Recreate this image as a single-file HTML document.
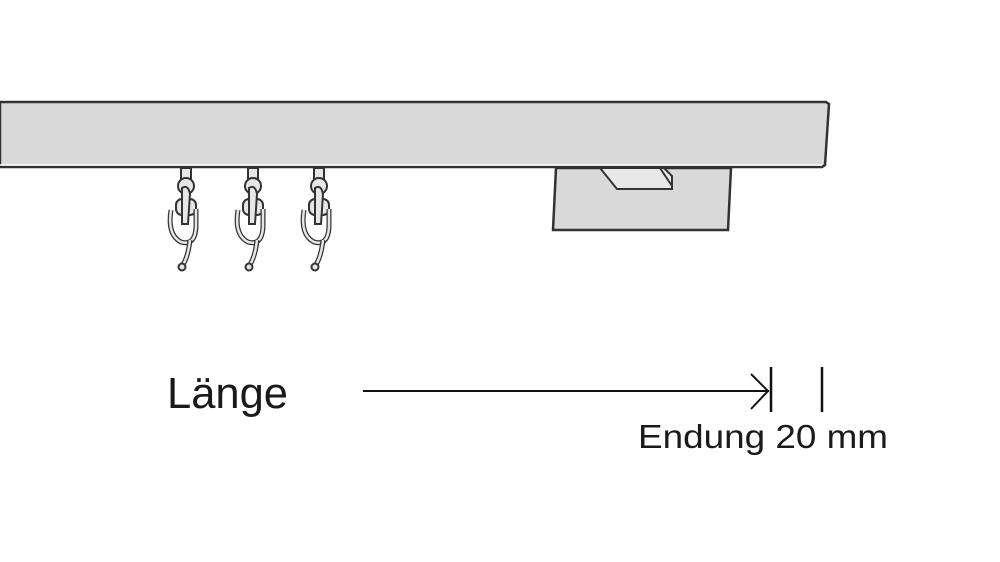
<!DOCTYPE html>
<html><head><meta charset="utf-8"><style>
html,body{margin:0;padding:0;background:#fff;width:1000px;height:562px;overflow:hidden}
svg{display:block}
text{font-family:"Liberation Sans",sans-serif;fill:#1a1a1a}
</style></head><body>
<svg width="1000" height="562" viewBox="0 0 1000 562">
<!-- bracket -->
<polygon points="556,168 731,168 728,230 553,230" fill="#d9d9d9" stroke="#333" stroke-width="2.5"/>
<polygon points="600,168 617,189 672,189 672,176 664,168" fill="#e8e8e8" stroke="#333" stroke-width="2"/>
<line x1="660" y1="168" x2="672" y2="186" stroke="#333" stroke-width="2"/>
<!-- rail -->
<polygon points="0,102 826,102 829,104 825,165 822,167 0,167" fill="#d9d9d9" stroke="#333" stroke-width="2.5"/>
<line x1="0" y1="165" x2="822" y2="165" stroke="#fff" stroke-width="1.5"/>
<!-- hooks -->
<g id="h" fill="#e6e6e6" stroke="#333" stroke-width="2">
<rect x="181" y="168" width="10" height="12"/>
<circle cx="186" cy="186" r="8"/>
<rect x="176" y="199" width="20" height="16" rx="6"/>
<path d="M182,188 q6,-4 8,6 l-2,30 l-6,0 z"/>
<path d="M171,210 q-4,25 10,32 q14,4 15,-15 l0,-18" fill="none" stroke-width="5" stroke="#333"/>
<path d="M171,210 q-4,25 10,32 q14,4 15,-15 l0,-18" fill="none" stroke-width="2.5" stroke="#e6e6e6"/>
<path d="M190,240 q-2,18 -8,26" fill="none" stroke-width="5" stroke="#333"/>
<path d="M190,240 q-2,18 -8,26" fill="none" stroke-width="2.5" stroke="#e6e6e6"/>
<circle cx="182" cy="267" r="3.5"/>
</g>
<use href="#h" x="67"/>
<use href="#h" x="133"/>
<!-- dimension -->
<line x1="363" y1="391" x2="769" y2="391" stroke="#111" stroke-width="2"/>
<polyline points="751,374 768,391 751,409" fill="none" stroke="#111" stroke-width="2"/>
<line x1="771" y1="367" x2="771" y2="412" stroke="#111" stroke-width="2.5"/>
<line x1="822" y1="367" x2="822" y2="412" stroke="#111" stroke-width="2.5"/>
<text x="167" y="408" font-size="44" textLength="121" lengthAdjust="spacingAndGlyphs">Länge</text>
<text x="638" y="448" font-size="33" textLength="250" lengthAdjust="spacingAndGlyphs">Endung 20 mm</text>
</svg>
</body></html>
